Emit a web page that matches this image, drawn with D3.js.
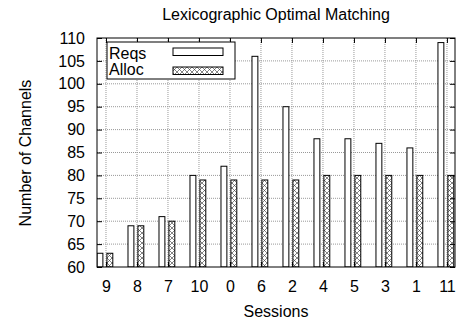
<!DOCTYPE html>
<html>
<head>
<meta charset="utf-8">
<script src="https://cdn.jsdelivr.net/npm/d3@7"></script>
<style>
  body { margin: 0; background: #fff; }
  svg { font-family: 'Liberation Sans', Arial, sans-serif; }
</style>
</head>
<body>
<div id="chart"></div>
<script>
const sessions = ['9', '8', '7', '10', '0', '6', '2', '4', '5', '3', '1', '11']
const reqs = [63, 69, 71, 80, 82, 106, 95, 88, 88, 87, 86, 109]
const alloc = [63, 69, 70, 79, 79, 79, 79, 80, 80, 80, 80, 80]
const yTicks = [60, 65, 70, 75, 80, 85, 90, 95, 100, 105, 110]

const margin = { top: 38, left: 97, right: 4, bottom: 57 }
const width = 459 - margin.left - margin.right
const height = 324 - margin.top - margin.bottom

const svg = d3.select('#chart')
  .append('svg')
  .attr('width', 459)
  .attr('height', 324)

// cross hatch for the Alloc bars
const defs = svg.append('defs')
const pat = defs.append('pattern')
  .attr('id', 'hatch')
  .attr('patternUnits', 'userSpaceOnUse')
  .attr('width', 5)
  .attr('height', 5)
pat.append('rect').attr('width', 5).attr('height', 5).attr('fill', '#fff')
pat.append('path')
  .attr('d', 'M0,0L5,5M5,0L0,5')
  .attr('stroke', '#333')
  .attr('stroke-width', 0.6)

defs.append('clipPath').attr('id', 'clip')
  .append('rect').attr('width', width).attr('height', height)

const g = svg.append('g')
  .attr('transform', 'translate(' + margin.left + ',' + margin.top + ')')

const xPositionScale = d3.scaleLinear()
  .domain([-0.29, 11.26])
  .range([0, width])

const yPositionScale = d3.scaleLinear()
  .domain([60, 110])
  .range([height, 0])

// grid
g.append('g')
  .selectAll('line')
  .data(yTicks.slice(1, -1))
  .enter()
  .append('line')
  .attr('x1', 0)
  .attr('x2', width)
  .attr('y1', d => yPositionScale(d))
  .attr('y2', d => yPositionScale(d))
  .attr('stroke', '#999')
  .attr('stroke-dasharray', '1,1')

g.append('g')
  .selectAll('line')
  .data(sessions)
  .enter()
  .append('line')
  .attr('x1', (d, i) => xPositionScale(i))
  .attr('x2', (d, i) => xPositionScale(i))
  .attr('y1', 0)
  .attr('y2', height)
  .attr('stroke', '#999')
  .attr('stroke-dasharray', '1,1')

const bw = 0.19
const bars = g.append('g').attr('clip-path', 'url(#clip)')

bars.selectAll('.reqs')
  .data(reqs)
  .enter()
  .append('rect')
  .attr('class', 'reqs')
  .attr('x', (d, i) => xPositionScale(i - 0.29))
  .attr('width', xPositionScale(bw) - xPositionScale(0))
  .attr('y', d => yPositionScale(d))
  .attr('height', d => height - yPositionScale(d))
  .attr('fill', '#fff')
  .attr('stroke', '#000')
  .attr('stroke-width', 1)

bars.selectAll('.alloc')
  .data(alloc)
  .enter()
  .append('rect')
  .attr('class', 'alloc')
  .attr('x', (d, i) => xPositionScale(i + 0.03))
  .attr('width', xPositionScale(bw) - xPositionScale(0))
  .attr('y', d => yPositionScale(d))
  .attr('height', d => height - yPositionScale(d))
  .attr('fill', 'url(#hatch)')
  .attr('stroke', '#000')
  .attr('stroke-width', 1)

// axes
const yAxis = d3.axisLeft(yPositionScale).tickValues(yTicks).tickSizeInner(-5).tickSizeOuter(0).tickPadding(12)
g.append('g')
  .attr('class', 'axis y-axis')
  .call(yAxis)
const yAxisR = d3.axisRight(yPositionScale).tickValues(yTicks).tickSizeInner(-5).tickSizeOuter(0).tickFormat('')
g.append('g')
  .attr('transform', 'translate(' + width + ',0)')
  .call(yAxisR)

const xAxis = d3.axisBottom(xPositionScale)
  .tickValues(d3.range(sessions.length))
  .tickFormat(i => sessions[i])
  .tickSizeInner(-5).tickSizeOuter(0).tickPadding(14)
g.append('g')
  .attr('class', 'axis x-axis')
  .attr('transform', 'translate(0,' + height + ')')
  .call(xAxis)
const xAxisT = d3.axisTop(xPositionScale)
  .tickValues(d3.range(sessions.length))
  .tickSizeInner(-5).tickSizeOuter(0).tickFormat('')
g.append('g').call(xAxisT)

svg.selectAll('.axis text').attr('font-size', 16).attr('fill', '#000')
  .attr('font-family', "'Liberation Sans', Arial, sans-serif")
svg.selectAll('.domain').remove()

g.append('rect')
  .attr('width', width)
  .attr('height', height)
  .attr('fill', 'none')
  .attr('stroke', '#000')

// legend
const legend = g.append('g').attr('transform', 'translate(10,4)')
legend.append('rect')
  .attr('width', 128)
  .attr('height', 37)
  .attr('fill', '#fff')
  .attr('stroke', '#000')
const legendItems = [
  { name: 'Reqs', fill: '#fff' },
  { name: 'Alloc', fill: 'url(#hatch)' }
]
legend.selectAll('text')
  .data(legendItems)
  .enter()
  .append('text')
  .text(d => d.name)
  .attr('x', 2)
  .attr('y', (d, i) => 16.5 + i * 16.8)
  .attr('font-size', 16)
legend.selectAll('.swatch')
  .data(legendItems)
  .enter()
  .append('rect')
  .attr('x', 66)
  .attr('y', (d, i) => 6 + i * 19)
  .attr('width', 50)
  .attr('height', 7.5)
  .attr('fill', d => d.fill)
  .attr('stroke', '#000')

svg.append('text')
  .text('Lexicographic Optimal Matching')
  .attr('x', 276)
  .attr('y', 20)
  .attr('text-anchor', 'middle')
  .attr('font-size', 16)

svg.append('text')
  .text('Sessions')
  .attr('x', 276)
  .attr('y', 317)
  .attr('text-anchor', 'middle')
  .attr('font-size', 16)

svg.append('text')
  .text('Number of Channels')
  .attr('transform', 'translate(31,153) rotate(-90)')
  .attr('text-anchor', 'middle')
  .attr('font-size', 16)
</script>
</body>
</html>
